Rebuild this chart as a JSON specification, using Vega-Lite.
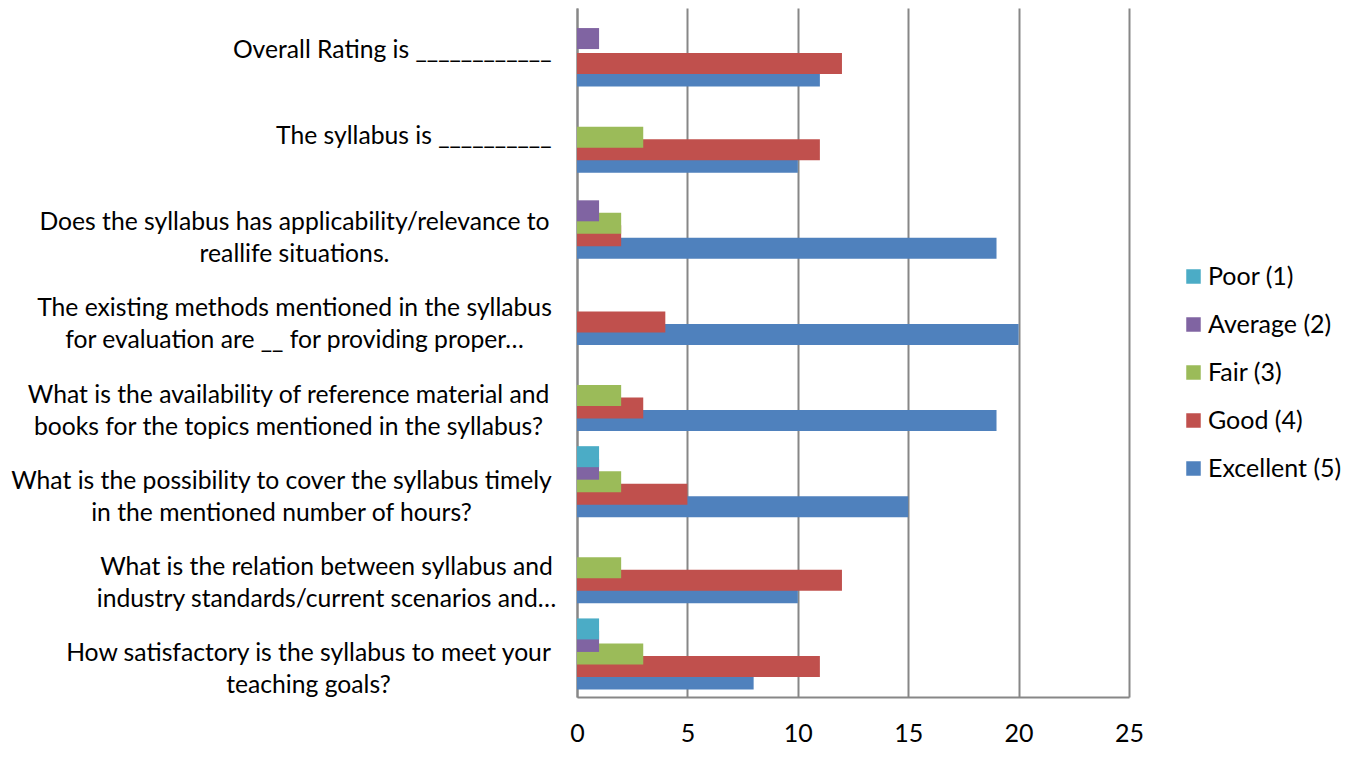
{
  "$schema": "https://vega.github.io/schema/vega-lite/v6.json",
  "width": 552,
  "height": 689,
  "autosize": "none",
  "padding": {"left": 577, "top": 8, "right": 241, "bottom": 63},
  "background": "white",
  "config": {
    "view": {"stroke": null},
    "font": "Lato",
    "axis": {"labelFont": "Lato", "labelColor": "#000000"},
    "legend": {"labelFont": "Lato"}
  },
  "data": {
    "values": [
      {"question": "Overall Rating is ____________", "rating": "Excellent (5)", "count": 11},
      {"question": "The syllabus is __________", "rating": "Excellent (5)", "count": 10},
      {"question": "Does the syllabus has applicability/relevance to\nreallife situations.", "rating": "Excellent (5)", "count": 19},
      {"question": "The existing methods mentioned in the syllabus\nfor evaluation are __ for providing proper…", "rating": "Excellent (5)", "count": 20},
      {"question": "What is the availability of reference material and\nbooks for the topics mentioned in the syllabus?", "rating": "Excellent (5)", "count": 19},
      {"question": "What is the possibility to cover the syllabus timely\nin the mentioned number of hours?", "rating": "Excellent (5)", "count": 15},
      {"question": "What is the relation between syllabus and\nindustry standards/current scenarios and…", "rating": "Excellent (5)", "count": 10},
      {"question": "How satisfactory is the syllabus to meet your\nteaching goals?", "rating": "Excellent (5)", "count": 8},

      {"question": "Overall Rating is ____________", "rating": "Good (4)", "count": 12},
      {"question": "The syllabus is __________", "rating": "Good (4)", "count": 11},
      {"question": "Does the syllabus has applicability/relevance to\nreallife situations.", "rating": "Good (4)", "count": 2},
      {"question": "The existing methods mentioned in the syllabus\nfor evaluation are __ for providing proper…", "rating": "Good (4)", "count": 4},
      {"question": "What is the availability of reference material and\nbooks for the topics mentioned in the syllabus?", "rating": "Good (4)", "count": 3},
      {"question": "What is the possibility to cover the syllabus timely\nin the mentioned number of hours?", "rating": "Good (4)", "count": 5},
      {"question": "What is the relation between syllabus and\nindustry standards/current scenarios and…", "rating": "Good (4)", "count": 12},
      {"question": "How satisfactory is the syllabus to meet your\nteaching goals?", "rating": "Good (4)", "count": 11},

      {"question": "Overall Rating is ____________", "rating": "Fair (3)", "count": 0},
      {"question": "The syllabus is __________", "rating": "Fair (3)", "count": 3},
      {"question": "Does the syllabus has applicability/relevance to\nreallife situations.", "rating": "Fair (3)", "count": 2},
      {"question": "The existing methods mentioned in the syllabus\nfor evaluation are __ for providing proper…", "rating": "Fair (3)", "count": 0},
      {"question": "What is the availability of reference material and\nbooks for the topics mentioned in the syllabus?", "rating": "Fair (3)", "count": 2},
      {"question": "What is the possibility to cover the syllabus timely\nin the mentioned number of hours?", "rating": "Fair (3)", "count": 2},
      {"question": "What is the relation between syllabus and\nindustry standards/current scenarios and…", "rating": "Fair (3)", "count": 2},
      {"question": "How satisfactory is the syllabus to meet your\nteaching goals?", "rating": "Fair (3)", "count": 3},

      {"question": "Overall Rating is ____________", "rating": "Average (2)", "count": 1},
      {"question": "The syllabus is __________", "rating": "Average (2)", "count": 0},
      {"question": "Does the syllabus has applicability/relevance to\nreallife situations.", "rating": "Average (2)", "count": 1},
      {"question": "The existing methods mentioned in the syllabus\nfor evaluation are __ for providing proper…", "rating": "Average (2)", "count": 0},
      {"question": "What is the availability of reference material and\nbooks for the topics mentioned in the syllabus?", "rating": "Average (2)", "count": 0},
      {"question": "What is the possibility to cover the syllabus timely\nin the mentioned number of hours?", "rating": "Average (2)", "count": 1},
      {"question": "What is the relation between syllabus and\nindustry standards/current scenarios and…", "rating": "Average (2)", "count": 0},
      {"question": "How satisfactory is the syllabus to meet your\nteaching goals?", "rating": "Average (2)", "count": 1},

      {"question": "Overall Rating is ____________", "rating": "Poor (1)", "count": 0},
      {"question": "The syllabus is __________", "rating": "Poor (1)", "count": 0},
      {"question": "Does the syllabus has applicability/relevance to\nreallife situations.", "rating": "Poor (1)", "count": 0},
      {"question": "The existing methods mentioned in the syllabus\nfor evaluation are __ for providing proper…", "rating": "Poor (1)", "count": 0},
      {"question": "What is the availability of reference material and\nbooks for the topics mentioned in the syllabus?", "rating": "Poor (1)", "count": 0},
      {"question": "What is the possibility to cover the syllabus timely\nin the mentioned number of hours?", "rating": "Poor (1)", "count": 1},
      {"question": "What is the relation between syllabus and\nindustry standards/current scenarios and…", "rating": "Poor (1)", "count": 0},
      {"question": "How satisfactory is the syllabus to meet your\nteaching goals?", "rating": "Poor (1)", "count": 1}
    ]
  },
  "mark": {"type": "bar", "height": 21},
  "encoding": {
    "y": {
      "field": "question",
      "type": "nominal",
      "sort": null,
      "scale": {"paddingInner": 0, "paddingOuter": 0},
      "axis": {
        "title": null,
        "labelExpr": "split(datum.label, '\\n')",
        "labelLimit": 0,
        "labelFontSize": 24.7,
        "labelLineHeight": 32,
        "ticks": false,
        "domain": true,
        "domainColor": "#878787",
        "domainWidth": 2,
        "labelBaseline": "middle",
        "labelAlign": {
          "condition": {"test": "indexof(datum.value, '\\n') >= 0", "value": "center"},
          "value": "right"
        },
        "labelPadding": {
          "condition": [
            {"test": "indexof(datum.value, 'Does the syllabus') == 0", "value": 283},
            {"test": "indexof(datum.value, 'The existing methods') == 0", "value": 283},
            {"test": "indexof(datum.value, 'What is the availability') == 0", "value": 289},
            {"test": "indexof(datum.value, 'What is the possibility') == 0", "value": 296},
            {"test": "indexof(datum.value, 'What is the relation') == 0", "value": 251},
            {"test": "indexof(datum.value, 'How satisfactory') == 0", "value": 269}
          ],
          "value": 26
        }
      }
    },
    "yOffset": {
      "field": "rating",
      "type": "nominal",
      "scale": {
        "domain": ["Poor (1)", "Average (2)", "Fair (3)", "Good (4)", "Excellent (5)"],
        "paddingInner": 0,
        "paddingOuter": 0.944
      }
    },
    "x": {
      "field": "count",
      "type": "quantitative",
      "scale": {"domain": [0, 25], "nice": false},
      "axis": {
        "title": null,
        "values": [0, 5, 10, 15, 20, 25],
        "labelFontSize": 25,
        "labelPadding": 24,
        "labelFlush": false,
        "ticks": false,
        "grid": true,
        "gridColor": "#878787",
        "gridWidth": 2,
        "domain": true,
        "domainColor": "#878787",
        "domainWidth": 2
      }
    },
    "color": {
      "field": "rating",
      "type": "nominal",
      "scale": {
        "domain": ["Poor (1)", "Average (2)", "Fair (3)", "Good (4)", "Excellent (5)"],
        "range": ["#4BACC6", "#8064A2", "#9BBB59", "#C0504D", "#4F81BD"]
      },
      "legend": {
        "title": null,
        "orient": "none",
        "legendX": 604,
        "legendY": 256,
        "symbolType": "square",
        "symbolSize": 210,
        "symbolStrokeWidth": 0,
        "symbolOpacity": 1,
        "labelFontSize": 25,
        "labelOffset": 2,
        "rowPadding": 22,
        "labelColor": "#000000",
        "padding": 0
      }
    }
  }
}
